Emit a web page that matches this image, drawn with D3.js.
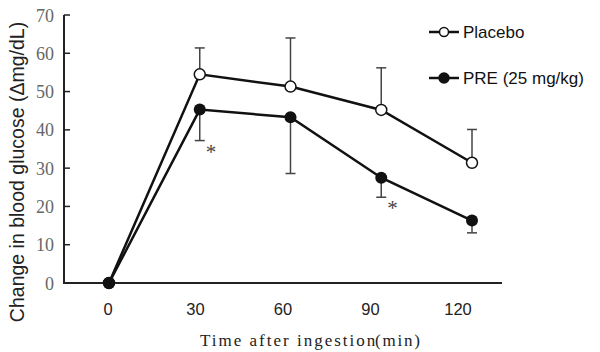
<!DOCTYPE html>
<html><head><meta charset="utf-8">
<script src="https://cdn.jsdelivr.net/npm/d3@7"></script>
<style>body{margin:0;background:#fff}</style>
</head><body><svg id="c" width="600" height="352"></svg>
<script>
const times = [0, 30, 60, 90, 120];
const placebo = [0, 54.5, 51.3, 45.2, 31.4];
const placeboErrUp = [0, 61.4, 64.0, 56.2, 40.1];
const pre = [0, 45.3, 43.3, 27.5, 16.3];
const preErrDown = [0, 37.2, 28.6, 22.4, 13.1];
const yTicks = [0, 10, 20, 30, 40, 50, 60, 70];
const xTicks = [0, 30, 60, 90, 120];
const sigTimes = [30, 90];
const seriesNames = ["Placebo", "PRE (25 mg/kg)"];

const svg = d3.select("#c");
const x = d3.scaleLinear().domain([0, 120]).range([109, 472]);
const xLab = d3.scaleLinear().domain([0, 120]).range([108, 458]);
const y = d3.scaleLinear().domain([0, 70]).range([283, 15]);

// axes
svg.append("line").attr("x1", 64).attr("x2", 64).attr("y1", y(70)).attr("y2", y(0))
  .attr("stroke", "#222").attr("stroke-width", 2);
svg.append("line").attr("x1", 63).attr("x2", 502).attr("y1", y(0)).attr("y2", y(0))
  .attr("stroke", "#222").attr("stroke-width", 2);
svg.selectAll(".yt").data(yTicks).enter().append("line")
  .attr("x1", 64).attr("x2", 70).attr("y1", d => y(d)).attr("y2", d => y(d))
  .attr("stroke", "#222").attr("stroke-width", 1.5);
svg.selectAll(".yl").data(yTicks).enter().append("text")
  .attr("x", 54).attr("y", d => y(d) + 6.5).attr("text-anchor", "end")
  .attr("font-family", "Liberation Serif, serif").attr("font-size", 18).attr("fill", "#666")
  .text(d => d);
svg.selectAll(".xl").data(xTicks).enter().append("text")
  .attr("x", d => xLab(d)).attr("y", 315).attr("text-anchor", "middle")
  .attr("font-family", "Liberation Sans, Arial, sans-serif").attr("font-size", 16.5).attr("fill", "#222")
  .text(d => d);

svg.append("text").attr("transform", "translate(24,172) rotate(-90)").attr("text-anchor", "middle")
  .attr("font-family", "Liberation Sans, Arial, sans-serif").attr("font-size", 19.5).attr("fill", "#222")
  .text("Change in blood glucose (\u0394mg/dL)");
svg.append("text").attr("x", 200).attr("y", 346)
  .attr("font-family", "Liberation Serif, serif").attr("font-size", 17).attr("letter-spacing", 2).attr("fill", "#222")
  .text("Time after ingestion");
svg.append("text").attr("x", 375).attr("y", 346)
  .attr("font-family", "Liberation Serif, serif").attr("font-size", 17).attr("letter-spacing", 1.8).attr("fill", "#222")
  .text("(min)");

// error bars
function errBars(vals, ends) {
  times.forEach((t, i) => {
    if (t === 0) return;
    svg.append("line").attr("x1", x(t)).attr("x2", x(t)).attr("y1", y(vals[i])).attr("y2", y(ends[i]))
      .attr("stroke", "#444").attr("stroke-width", 1.5);
    svg.append("line").attr("x1", x(t) - 5).attr("x2", x(t) + 5).attr("y1", y(ends[i])).attr("y2", y(ends[i]))
      .attr("stroke", "#444").attr("stroke-width", 1.5);
  });
}
errBars(placebo, placeboErrUp);
errBars(pre, preErrDown);

const line = d3.line().x((d, i) => x(times[i])).y(d => y(d));
svg.append("path").datum(placebo).attr("d", line).attr("fill", "none").attr("stroke", "#111").attr("stroke-width", 2.5);
svg.append("path").datum(pre).attr("d", line).attr("fill", "none").attr("stroke", "#111").attr("stroke-width", 2.5);

svg.selectAll(".pp").data(placebo).enter().append("circle")
  .attr("cx", (d, i) => x(times[i])).attr("cy", d => y(d)).attr("r", 5.5)
  .attr("fill", (d, i) => i === 0 ? "#111" : "#fff").attr("stroke", "#111").attr("stroke-width", 1.5);
svg.selectAll(".pr").data(pre).enter().append("circle")
  .attr("cx", (d, i) => x(times[i])).attr("cy", d => y(d)).attr("r", 6)
  .attr("fill", "#111");

// significance asterisks
sigTimes.forEach(t => {
  const i = times.indexOf(t);
  svg.append("text").attr("x", x(t) + 6).attr("y", y(preErrDown[i]) + 18)
    .attr("font-family", "Liberation Serif, serif").attr("font-size", 21).attr("fill", "#444")
    .text("*");
});

// legend
const lg = [{y: 32, fill: "#fff"}, {y: 78, fill: "#111"}];
lg.forEach((l, i) => {
  svg.append("line").attr("x1", 429).attr("x2", 459).attr("y1", l.y).attr("y2", l.y)
    .attr("stroke", "#111").attr("stroke-width", 2.5);
  svg.append("circle").attr("cx", 444).attr("cy", l.y).attr("r", i === 0 ? 4.5 : 5)
    .attr("fill", l.fill).attr("stroke", "#111").attr("stroke-width", 1.5);
  svg.append("text").attr("x", 463).attr("y", l.y + 6)
    .attr("font-family", "Liberation Sans, Arial, sans-serif").attr("font-size", 17).attr("fill", "#111")
    .text(seriesNames[i]);
});
</script></body></html>
